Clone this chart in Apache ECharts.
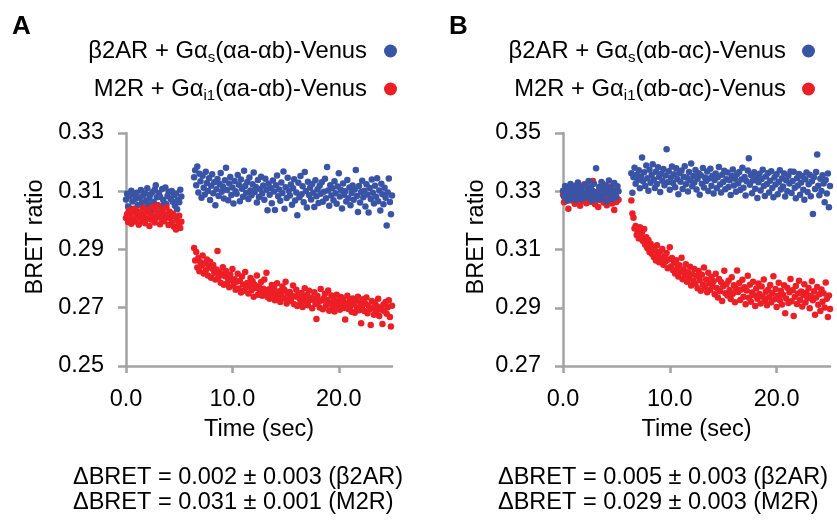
<!DOCTYPE html>
<html>
<head>
<meta charset="utf-8">
<script src="https://cdn.jsdelivr.net/npm/echarts@6/dist/echarts.min.js"></script>
<style>html,body{margin:0;padding:0;background:#fff;}#c{width:837px;height:520px;}</style>
</head>
<body>
<div id="c"></div>
<script>
// ---- sampling grid (seconds) ----
const STEP = 0.1;
const PRE_START = 0.0;   // pre-stimulus reads 0.0 .. 5.2 s
const POST_START = 6.4;  // post-stimulus reads 6.4 .. 25.0 s

// ---- tick labels ----
const xTicks = [0, 10, 20];
const yTicksA = [0.25, 0.27, 0.29, 0.31, 0.33];
const yTicksB = [0.27, 0.29, 0.31, 0.33, 0.35];

// ---- series names ----
const nameABlue = 'β2AR + Gαs(αa-αb)-Venus';
const nameARed = 'M2R + Gαi1(αa-αb)-Venus';
const nameBBlue = 'β2AR + Gαs(αb-αc)-Venus';
const nameBRed = 'M2R + Gαi1(αb-αc)-Venus';

// ---- Panel A values ----
const aBluePre = [
0.3072,0.3091,0.3048,0.3083,0.3041,0.3102,0.3065,0.3030,0.3087,0.3074,
0.3095,0.3053,0.3022,0.3078,0.3104,0.3061,0.3085,0.3044,0.3093,0.3067,
0.3110,0.3056,0.3076,0.3089,0.3035,0.3097,0.3063,0.3106,0.3121,0.3079,
0.3052,0.3094,0.3081,0.3046,0.3108,0.3070,0.3059,0.3113,0.3055,0.3084,
0.3098,0.3026,0.3073,0.3101,0.3064,0.3086,0.3050,0.3092,0.3038,0.3071,
0.3062,0.3105,0.3082];
const aRedPre = [
0.3008,0.3021,0.2994,0.3035,0.3012,0.2988,0.3027,0.3003,0.3040,0.2996,
0.3018,0.3031,0.2985,0.3010,0.3024,0.2999,0.3043,0.3015,0.2990,0.3029,
0.3006,0.3037,0.2981,0.3019,0.3002,0.3048,0.3013,0.2993,0.3033,0.3009,
0.3051,0.3017,0.2987,0.3026,0.3004,0.3039,0.2997,0.3020,0.3045,0.3011,
0.2984,0.3030,0.3007,0.2992,0.3023,0.2978,0.3014,0.2969,0.3001,0.2983,
0.3016,0.2974,0.2995];
const aBluePost = [
0.3148,0.3172,0.3121,0.3185,0.3096,0.3160,0.3134,0.3078,0.3153,0.3112,
0.3089,0.3167,0.3128,0.3101,0.3145,0.3070,0.3119,0.3158,0.3093,0.3131,
0.3052,0.3107,0.3142,0.3084,0.3125,0.3163,0.3098,0.3116,0.3075,0.3138,
0.3181,0.3104,0.3069,0.3127,0.3149,0.3087,0.3113,0.3058,0.3135,0.3100,
0.3091,0.3156,0.3122,0.3066,0.3140,0.3109,0.3081,0.3170,0.3118,0.3095,
0.3132,0.3073,0.3147,0.3103,0.3086,0.3124,0.3164,0.3097,0.3115,0.3061,
0.3139,0.3080,0.3108,0.3150,0.3092,0.3120,0.3071,0.3143,0.3105,0.3035,
0.3126,0.3088,0.3111,0.3059,0.3137,0.3099,0.3036,0.3121,0.3154,0.3083,
0.3106,0.3067,0.3130,0.3094,0.3168,0.3040,0.3114,0.3077,0.3146,0.3102,
0.3085,0.3123,0.3054,0.3110,0.3141,0.3068,0.3096,0.3018,0.3129,0.3079,
0.3152,0.3090,0.3117,0.3062,0.3166,0.3101,0.3044,0.3133,0.3087,0.3112,
0.3072,0.3125,0.3095,0.3046,0.3138,0.3083,0.3107,0.3060,0.3119,0.3091,
0.3131,0.3064,0.3098,0.3143,0.3076,0.3183,0.3103,0.3050,0.3121,0.3085,
0.3110,0.3069,0.3134,0.3093,0.3057,0.3116,0.3162,0.3082,0.3104,0.3041,
0.3127,0.3088,0.3100,0.3065,0.3139,0.3076,0.3113,0.3052,0.3094,0.3120,
0.3071,0.3106,0.3173,0.3084,0.3029,0.3118,0.3061,0.3097,0.3136,0.3079,
0.3102,0.3048,0.3124,0.3089,0.3027,0.3111,0.3073,0.3140,0.3095,0.3058,
0.3119,0.3081,0.3145,0.3066,0.3103,0.3034,0.3126,0.3090,0.3055,0.3112,
0.3078,0.2982,0.3096,0.3144,0.3063,0.3021,0.3085];
const aRedPost = [
0.2905,0.2862,0.2891,0.2838,0.2871,0.2825,0.2856,0.2844,0.2879,0.2818,
0.2852,0.2829,0.2866,0.2811,0.2840,0.2858,0.2803,0.2834,0.2847,0.2820,
0.2797,0.2831,0.2895,0.2805,0.2822,0.2786,0.2815,0.2839,0.2779,0.2808,
0.2826,0.2784,0.2801,0.2770,0.2814,0.2795,0.2833,0.2776,0.2798,0.2762,
0.2789,0.2817,0.2766,0.2793,0.2752,0.2807,0.2780,0.2758,0.2823,0.2771,
0.2785,0.2749,0.2774,0.2802,0.2760,0.2791,0.2738,0.2779,0.2768,0.2811,
0.2745,0.2772,0.2756,0.2788,0.2741,0.2765,0.2797,0.2750,0.2820,0.2737,
0.2763,0.2731,0.2755,0.2778,0.2743,0.2769,0.2726,0.2752,0.2784,0.2738,
0.2757,0.2720,0.2746,0.2773,0.2733,0.2761,0.2789,0.2715,0.2748,0.2729,
0.2754,0.2724,0.2741,0.2776,0.2712,0.2739,0.2762,0.2706,0.2745,0.2732,
0.2718,0.2751,0.2703,0.2736,0.2767,0.2722,0.2744,0.2709,0.2758,0.2727,
0.2735,0.2698,0.2729,0.2753,0.2714,0.2661,0.2740,0.2721,0.2701,0.2764,
0.2725,0.2695,0.2733,0.2748,0.2708,0.2727,0.2759,0.2690,0.2716,0.2742,
0.2702,0.2730,0.2687,0.2719,0.2745,0.2706,0.2724,0.2693,0.2737,0.2711,
0.2728,0.2699,0.2660,0.2715,0.2741,0.2696,0.2722,0.2705,0.2686,0.2732,
0.2712,0.2683,0.2726,0.2700,0.2738,0.2691,0.2718,0.2647,0.2704,0.2729,
0.2689,0.2714,0.2735,0.2681,0.2708,0.2695,0.2641,0.2723,0.2698,0.2676,
0.2717,0.2685,0.2705,0.2731,0.2672,0.2700,0.2693,0.2644,0.2711,0.2688,
0.2720,0.2679,0.2702,0.2726,0.2668,0.2636,0.2707];

// ---- Panel B values ----
const bBluePre = [
0.3302,0.3281,0.3318,0.3294,0.3267,0.3311,0.3288,0.3325,0.3276,0.3305,
0.3292,0.3319,0.3270,0.3298,0.3330,0.3285,0.3309,0.3273,0.3316,0.3296,
0.3287,0.3322,0.3278,0.3306,0.3335,0.3290,0.3313,0.3268,0.3301,0.3326,
0.3283,0.3379,0.3297,0.3272,0.3315,0.3289,0.3332,0.3276,0.3308,0.3294,
0.3321,0.3265,0.3299,0.3337,0.3284,0.3312,0.3274,0.3303,0.3328,0.3291,
0.3279,0.3317,0.3300];
const bRedPre = [
0.3288,0.3262,0.3301,0.3275,0.3312,0.3240,0.3284,0.3296,0.3268,0.3309,
0.3279,0.3257,0.3293,0.3318,0.3271,0.3286,0.3250,0.3302,0.3266,0.3291,
0.3324,0.3277,0.3259,0.3298,0.3282,0.3314,0.3264,0.3289,0.3335,0.3273,
0.3255,0.3295,0.3280,0.3246,0.3307,0.3270,0.3287,0.3326,0.3261,0.3294,
0.3278,0.3252,0.3303,0.3283,0.3267,0.3316,0.3258,0.3290,0.3236,0.3276,
0.3263,0.3299,0.3271];
const bBluePost = [
0.3362,0.3295,0.3348,0.3381,0.3326,0.3357,0.3339,0.3372,0.3310,0.3351,
0.3416,0.3334,0.3365,0.3318,0.3388,0.3345,0.3302,0.3374,0.3329,0.3356,
0.3393,0.3340,0.3311,0.3367,0.3325,0.3382,0.3349,0.3297,0.3360,0.3336,
0.3376,0.3321,0.3354,0.3444,0.3331,0.3369,0.3305,0.3347,0.3385,0.3328,
0.3358,0.3314,0.3379,0.3342,0.3290,0.3363,0.3333,0.3371,0.3308,0.3350,
0.3386,0.3324,0.3346,0.3299,0.3366,0.3337,0.3395,0.3317,0.3352,0.3330,
0.3373,0.3306,0.3343,0.3362,0.3288,0.3355,0.3326,0.3380,0.3313,0.3347,
0.3335,0.3368,0.3301,0.3344,0.3377,0.3319,0.3353,0.3292,0.3339,0.3361,
0.3310,0.3348,0.3383,0.3323,0.3296,0.3357,0.3332,0.3370,0.3307,0.3341,
0.3364,0.3315,0.3338,0.3287,0.3352,0.3375,0.3320,0.3343,0.3298,0.3359,
0.3327,0.3366,0.3304,0.3340,0.3381,0.3312,0.3349,0.3285,0.3334,0.3371,
0.3413,0.3322,0.3356,0.3293,0.3337,0.3365,0.3309,0.3346,0.3277,0.3331,
0.3360,0.3303,0.3342,0.3374,0.3318,0.3284,0.3351,0.3325,0.3363,0.3296,
0.3336,0.3369,0.3311,0.3279,0.3347,0.3323,0.3358,0.3290,0.3332,0.3372,
0.3306,0.3344,0.3316,0.3361,0.3282,0.3338,0.3300,0.3353,0.3327,0.3368,
0.3294,0.3335,0.3367,0.3312,0.3276,0.3345,0.3320,0.3359,0.3288,0.3330,
0.3352,0.3305,0.3271,0.3341,0.3364,0.3297,0.3324,0.3357,0.3283,0.3334,
0.3222,0.3348,0.3308,0.3366,0.3426,0.3319,0.3286,0.3343,0.3301,0.3355,
0.3327,0.3262,0.3339,0.3292,0.3361,0.3245,0.3318];
const bRedPost = [
0.3268,0.3224,0.3209,0.3172,0.3181,0.3150,0.3163,0.3138,0.3176,0.3145,
0.3159,0.3128,0.3170,0.3116,0.3142,0.3104,0.3133,0.3091,0.3120,0.3085,
0.3108,0.3074,0.3097,0.3062,0.3115,0.3081,0.3056,0.3093,0.3069,0.3102,
0.3048,0.3077,0.3059,0.3088,0.3036,0.3066,0.3108,0.3042,0.3071,0.3029,
0.3054,0.3018,0.3063,0.3035,0.3007,0.3046,0.3024,0.3072,0.2998,0.3031,
0.3012,0.3049,0.2989,0.3022,0.3004,0.3041,0.2976,0.3015,0.2993,0.3033,
0.2982,0.3009,0.2967,0.3026,0.2995,0.2958,0.3013,0.2979,0.3038,0.2971,
0.2997,0.2953,0.3020,0.2984,0.2962,0.3006,0.2975,0.2991,0.2946,0.3017,
0.2968,0.2935,0.2999,0.2957,0.2988,0.2923,0.2974,0.3027,0.2950,0.2981,
0.2942,0.2993,0.2961,0.2930,0.3005,0.2948,0.2977,0.2919,0.2965,0.3028,
0.2954,0.2985,0.2927,0.2963,0.2996,0.2938,0.2970,0.2912,0.2959,0.3010,
0.2934,0.2979,0.2921,0.2952,0.2989,0.2943,0.2906,0.2966,0.2931,0.2983,
0.2947,0.2915,0.2973,0.2938,0.2997,0.2924,0.2955,0.2909,0.2962,0.2936,
0.2978,0.2919,0.2950,0.3008,0.2929,0.2964,0.2903,0.2941,0.2986,0.2926,
0.2958,0.2911,0.2945,0.2977,0.2881,0.2932,0.2969,0.2916,0.2953,0.2999,
0.2922,0.2960,0.2872,0.2937,0.2975,0.2913,0.2949,0.2993,0.2927,0.2956,
0.2904,0.2944,0.2981,0.2918,0.2952,0.2933,0.2968,0.2898,0.2940,0.2991,
0.2926,0.2957,0.2876,0.2935,0.2971,0.2910,0.2946,0.2889,0.2963,0.2921,
0.2950,0.2901,0.2987,0.2931,0.2868,0.2942,0.2896];

// ---- footer texts ----
const footA = ['ΔBRET = 0.002 ± 0.003 (β2AR)', 'ΔBRET = 0.031 ± 0.001 (M2R)'];
const footB = ['ΔBRET = 0.005 ± 0.003 (β2AR)', 'ΔBRET = 0.029 ± 0.003 (M2R)'];

const BLUE = '#3a54a5';
const RED = '#ec1f26';
const FONT = '"Liberation Sans", Arial, Helvetica, sans-serif';
const GREY = '#a3a3a3';

function toPoints(pre, post) {
  const pts = [];
  pre.forEach((v, i) => pts.push([+(PRE_START + i * STEP).toFixed(1), v]));
  post.forEach((v, i) => pts.push([+(POST_START + i * STEP).toFixed(1), v]));
  return pts;
}

const richNames = {};
richNames[nameABlue] = '{n|β2AR + Gα}{s|s}{n|(αa-αb)-Venus}';
richNames[nameARed] = '{n|M2R + Gα}{s|i1}{n|(αa-αb)-Venus}';
richNames[nameBBlue] = '{n|β2AR + Gα}{s|s}{n|(αb-αc)-Venus}';
richNames[nameBRed] = '{n|M2R + Gα}{s|i1}{n|(αb-αc)-Venus}';

function legendFor(names, right, padR) {
  return {
    data: names, orient: 'vertical', right: right, top: 31, align: 'right',
    icon: 'circle', itemWidth: 13, itemHeight: 13, itemGap: 9, selectedMode: false,
    formatter: n => richNames[n],
    textStyle: {
      padding: [0, padR, 0, 0],
      rich: {
        n: { fontSize: 23.8, lineHeight: 28, fontFamily: FONT, color: '#000' },
        s: { fontSize: 15, lineHeight: 14, padding: [14, 0, 0, 0], verticalAlign: 'bottom', fontFamily: FONT, color: '#000' }
      }
    }
  };
}

function xAxisFor(gi) {
  return {
    type: 'value', gridIndex: gi, min: 0, max: 25,
    name: 'Time (sec)', nameLocation: 'middle', nameGap: 52,
    nameTextStyle: { fontSize: 23.5, fontFamily: FONT, color: '#000' },
    axisLine: { lineStyle: { color: GREY, width: 2.5 } },
    axisTick: { show: true, length: 7, lineStyle: { color: GREY, width: 2.5 }, customValues: xTicks },
    axisLabel: { fontSize: 23.5, fontFamily: FONT, color: '#000', margin: 22, customValues: xTicks, formatter: v => v.toFixed(1) },
    splitLine: { show: false }
  };
}
function yAxisFor(gi, ticks) {
  return {
    type: 'value', gridIndex: gi, min: ticks[0], max: ticks[ticks.length - 1],
    axisLine: { show: true, lineStyle: { color: GREY, width: 2.5 } },
    axisTick: { show: true, length: 8, lineStyle: { color: GREY, width: 2.5 }, customValues: ticks },
    axisLabel: { fontSize: 23.5, fontFamily: FONT, color: '#000', margin: 22, customValues: ticks, formatter: v => v.toFixed(2) },
    splitLine: { show: false }
  };
}
function scatter(name, xi, data, color, z) {
  return {
    type: 'scatter', name: name, xAxisIndex: xi, yAxisIndex: xi, data: data,
    symbol: 'circle', symbolSize: 6.5, itemStyle: { color: color, opacity: 1 }, z: z,
    emphasis: { disabled: true }, silent: true
  };
}
function txt(x, y, s, extra) {
  return { type: 'text', x: x, y: y, style: Object.assign({ text: s, fontSize: 23.5, fontFamily: FONT, fill: '#000', textVerticalAlign: 'middle', verticalAlign: 'middle' }, extra || {}) };
}

const chart = echarts.init(document.getElementById('c'), null, { renderer: 'canvas' });
chart.setOption({
  animation: false,
  backgroundColor: '#fff',
  grid: [
    { left: 126, top: 133, width: 266, height: 233 },
    { left: 563, top: 133, width: 267, height: 233 }
  ],
  xAxis: [xAxisFor(0), xAxisFor(1)],
  yAxis: [yAxisFor(0, yTicksA), yAxisFor(1, yTicksB)],
  legend: [legendFor([nameABlue, nameARed], 435, 12), legendFor([nameBBlue, nameBRed], 17, 11)],
  series: [
    scatter(nameABlue, 0, toPoints(aBluePre, aBluePost), BLUE, 2),
    scatter(nameARed, 0, toPoints(aRedPre, aRedPost), RED, 3),
    scatter(nameBRed, 1, toPoints(bRedPre, bRedPost), RED, 2),
    scatter(nameBBlue, 1, toPoints(bBluePre, bBluePost), BLUE, 3)
  ],
  graphic: [
    txt(12, 27, 'A', { fontSize: 26, fontWeight: 'bold' }),
    txt(449, 27, 'B', { fontSize: 26, fontWeight: 'bold' }),
    { type: 'text', x: 36, y: 237, rotation: Math.PI / 2, style: { text: 'BRET ratio', fontSize: 23.5, fontFamily: FONT, fill: '#000', align: 'center', verticalAlign: 'middle' } },
    { type: 'text', x: 477, y: 237, rotation: Math.PI / 2, style: { text: 'BRET ratio', fontSize: 23.5, fontFamily: FONT, fill: '#000', align: 'center', verticalAlign: 'middle' } },
    txt(73, 478, footA[0]), txt(73, 503, footA[1]),
    txt(498, 478, footB[0]), txt(498, 503, footB[1])
  ]
});
</script>
</body>
</html>
